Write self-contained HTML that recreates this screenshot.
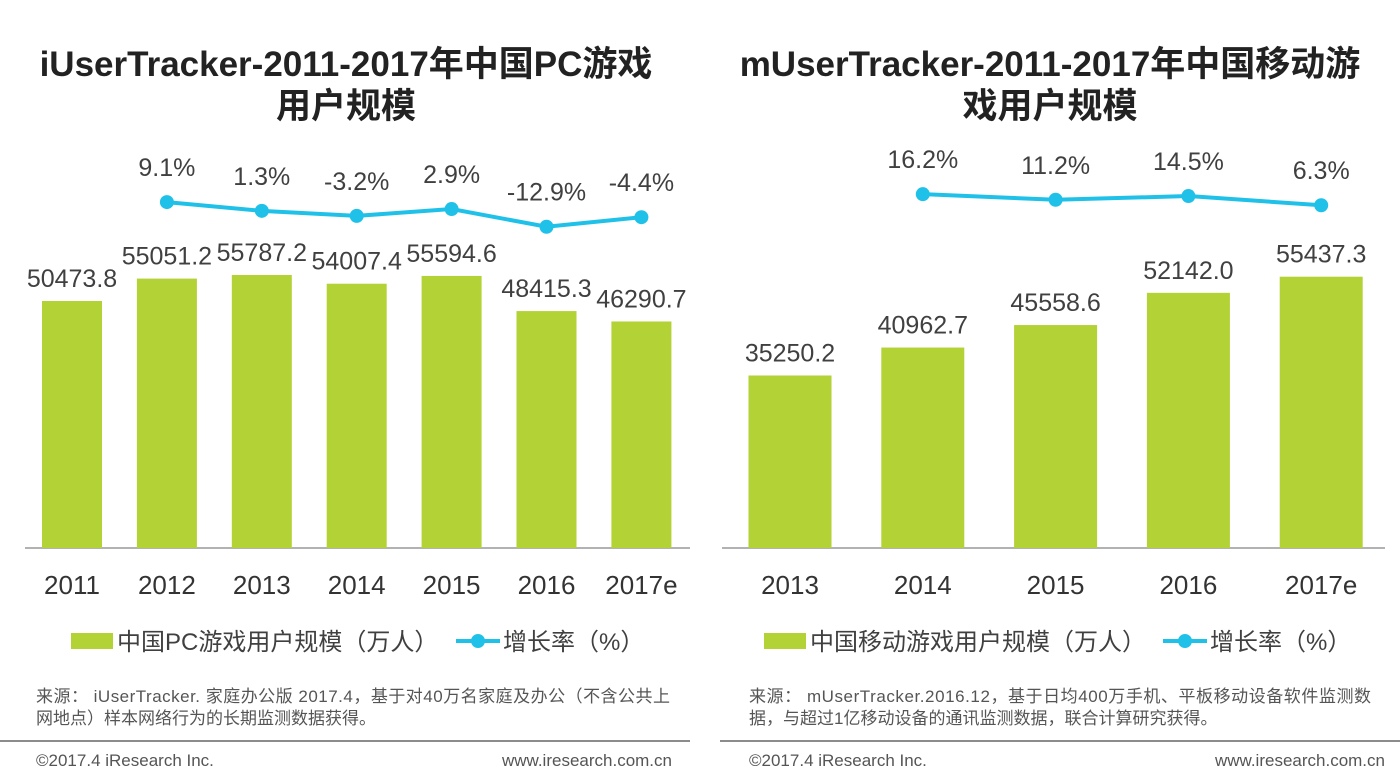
<!DOCTYPE html>
<html><head><meta charset="utf-8"><style>
body{margin:0;background:#fff;width:1400px;height:783px;overflow:hidden}
svg{display:block;font-family:"Liberation Sans","Noto Sans CJK SC",sans-serif}
</style></head><body>
<svg id="s" width="1400" height="783">
<text x="346" y="76" font-size="35" font-weight="bold" text-anchor="middle" fill="#222">iUserTracker-2011-2017年中国PC游戏</text>
<text x="346" y="118" font-size="35" font-weight="bold" text-anchor="middle" fill="#222">用户规模</text>
<text x="1050" y="76" font-size="35" font-weight="bold" text-anchor="middle" fill="#222">mUserTracker-2011-2017年中国移动游</text>
<text x="1050" y="118" font-size="35" font-weight="bold" text-anchor="middle" fill="#222">戏用户规模</text>
<g id="gl"></g><g id="gr"></g>
<g>
<rect x="71" y="633" width="42" height="16" fill="#b2d235"/>
<text x="117" y="650" font-size="24" fill="#404040">中国PC游戏用户规模（万人）</text>
<line x1="456" y1="641" x2="500" y2="641" stroke="#1fc1e8" stroke-width="4"/>
<circle cx="478" cy="641" r="7" fill="#1fc1e8"/>
<text x="503" y="650" font-size="24" fill="#404040">增长率（%）</text>
</g>
<g>
<rect x="764" y="633" width="42" height="16" fill="#b2d235"/>
<text x="810" y="650" font-size="24" fill="#404040">中国移动游戏用户规模（万人）</text>
<line x1="1163" y1="641" x2="1207" y2="641" stroke="#1fc1e8" stroke-width="4"/>
<circle cx="1185" cy="641" r="7" fill="#1fc1e8"/>
<text x="1210" y="650" font-size="24" fill="#404040">增长率（%）</text>
</g>
<text x="36" y="702" font-size="17" fill="#555" textLength="634">来源： iUserTracker. 家庭办公版 2017.4，基于对40万名家庭及办公（不含公共上</text>
<text x="36" y="724" font-size="17" fill="#555">网地点）样本网络行为的长期监测数据获得。</text>
<text x="749" y="702" font-size="17" fill="#555" textLength="622">来源： mUserTracker.2016.12，基于日均400万手机、平板移动设备软件监测数</text>
<text x="749" y="724" font-size="17" fill="#555">据，与超过1亿移动设备的通讯监测数据，联合计算研究获得。</text>
<line x1="0" y1="741" x2="690" y2="741" stroke="#666" stroke-width="1.5"/>
<line x1="720" y1="741" x2="1400" y2="741" stroke="#666" stroke-width="1.5"/>
<text x="36" y="766" font-size="17" fill="#555">©2017.4 iResearch Inc.</text>
<text x="672" y="766" font-size="17" fill="#555" text-anchor="end">www.iresearch.com.cn</text>
<text x="749" y="766" font-size="17" fill="#555">©2017.4 iResearch Inc.</text>
<text x="1385" y="766" font-size="17" fill="#555" text-anchor="end">www.iresearch.com.cn</text>
</svg>
<script>
const pcYears=["2011","2012","2013","2014","2015","2016","2017e"];
const pcUsers=[50473.8,55051.2,55787.2,54007.4,55594.6,48415.3,46290.7];
const pcGrowth=[null,9.1,1.3,-3.2,2.9,-12.9,-4.4];
const mYears=["2013","2014","2015","2016","2017e"];
const mUsers=[35250.2,40962.7,45558.6,52142.0,55437.3];
const mGrowth=[null,16.2,11.2,14.5,6.3];
const NS="http://www.w3.org/2000/svg";
const base=548, k=247/50473.8, zero=212.3, gk=1.12;
const yV=v=>base-v*k, yG=g=>zero-g*gk;
function mk(g,t,a){const e=document.createElementNS(NS,t);for(const n in a)e.setAttribute(n,a[n]);g.appendChild(e);return e;}
function draw(gid,years,users,growth,x0,step,bw,lx1,lx2){
 const g=document.getElementById(gid);
 const xc=i=>x0+i*step;
 const ax=mk(g,'line',{x1:lx1,x2:lx2,y1:base,y2:base,stroke:'#999','stroke-width':1.5});
 
 
 users.forEach((v,i)=>{
  const r=mk(g,'rect',{x:xc(i)-bw/2,y:yV(v),width:bw,height:base-yV(v),fill:'#b2d235'});
  
  
  const t=mk(g,'text',{x:xc(i),y:yV(v)-14,'font-size':25,'text-anchor':'middle',fill:'#404040'});
  t.textContent=v.toFixed(1);
  
  
  const l=mk(g,'text',{x:xc(i),y:594,'font-size':26,'text-anchor':'middle',fill:'#333'});
  l.textContent=years[i];
  
  
 });
 const pts=[];growth.forEach((v,i)=>{if(v!==null)pts.push([xc(i),yG(v),v]);});
 const pl=mk(g,'polyline',{points:pts.map(p=>p[0]+','+p[1]).join(' '),fill:'none',stroke:'#1fc1e8','stroke-width':4});
 
 
 pts.forEach(p=>{
  const c=mk(g,'circle',{cx:p[0],cy:p[1],r:7,fill:'#1fc1e8'});
  
  
  const t=mk(g,'text',{x:p[0],y:p[1]-26,'font-size':25,'text-anchor':'middle',fill:'#404040'});
  t.textContent=p[2].toFixed(1)+'%';
  
  
 });
}
draw('gl',pcYears,pcUsers,pcGrowth,72,94.9,60,25,690);
draw('gr',mYears,mUsers,mGrowth,790,132.8,83,722,1385);
</script>
</body></html>
